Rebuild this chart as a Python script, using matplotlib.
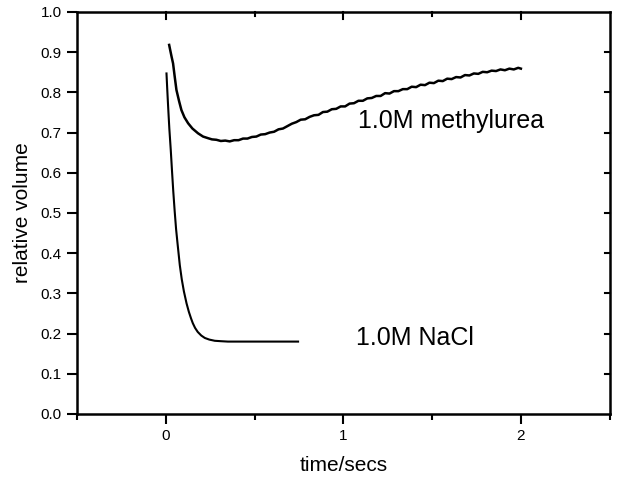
import numpy as np
import matplotlib.pyplot as plt
from matplotlib.ticker import MultipleLocator

plt.rcParams['font.family'] = ['Liberation Sans', 'DejaVu Sans']

# NaCl trace
t_nacl = [0.004, 0.008, 0.012, 0.016, 0.02, 0.028, 0.035, 0.042, 0.05, 0.058, 0.066, 0.079,
          0.09, 0.102, 0.117, 0.13, 0.142, 0.152, 0.165, 0.18, 0.2, 0.22, 0.245, 0.276,
          0.31, 0.35, 0.4, 0.5, 0.6, 0.7, 0.745]
v_nacl = [0.847, 0.81, 0.775, 0.742, 0.71, 0.657, 0.605, 0.555, 0.505, 0.46, 0.425, 0.37,
          0.335, 0.305, 0.275, 0.254, 0.238, 0.226, 0.214, 0.204, 0.195, 0.189, 0.185, 0.182,
          0.181, 0.18, 0.18, 0.18, 0.18, 0.18, 0.18]

# methylurea trace
t_mu = [0.019, 0.025, 0.033, 0.041, 0.05, 0.06, 0.075, 0.088, 0.105, 0.126, 0.15, 0.182, 0.21, 0.238,
        0.260, 0.285, 0.310, 0.335, 0.360, 0.385, 0.410, 0.435, 0.460, 0.485, 0.510, 0.535,
        0.560, 0.585, 0.610, 0.635, 0.660, 0.685, 0.710, 0.735, 0.760, 0.785, 0.810, 0.835,
        0.860, 0.885, 0.910, 0.935, 0.960, 0.985, 1.010, 1.035, 1.060, 1.085, 1.110, 1.135,
        1.160, 1.185, 1.210, 1.235, 1.260, 1.285, 1.310, 1.335, 1.360, 1.385, 1.410, 1.435,
        1.460, 1.485, 1.510, 1.535, 1.560, 1.585, 1.610, 1.635, 1.660, 1.685, 1.710, 1.735,
        1.760, 1.785, 1.810, 1.835, 1.860, 1.885, 1.910, 1.935, 1.960, 1.985, 2.000]
v_mu = [0.918, 0.905, 0.888, 0.872, 0.84, 0.806, 0.778, 0.756, 0.738, 0.723, 0.710, 0.698, 0.690, 0.686,
        0.683, 0.682, 0.679, 0.680, 0.678, 0.681, 0.681, 0.685, 0.685, 0.689, 0.690, 0.695,
        0.696, 0.700, 0.702, 0.708, 0.710, 0.716, 0.722, 0.726, 0.732, 0.733, 0.739, 0.743,
        0.744, 0.751, 0.752, 0.758, 0.759, 0.765, 0.765, 0.772, 0.773, 0.779, 0.779, 0.785,
        0.786, 0.791, 0.791, 0.798, 0.797, 0.803, 0.803, 0.808, 0.808, 0.814, 0.813, 0.819,
        0.818, 0.824, 0.823, 0.829, 0.828, 0.834, 0.833, 0.838, 0.837, 0.843, 0.842, 0.847,
        0.846, 0.851, 0.850, 0.854, 0.853, 0.857, 0.855, 0.859, 0.857, 0.861, 0.859]

fig = plt.figure(figsize=(6.23, 4.78), dpi=100)
ax = fig.add_axes([0.1236, 0.134, 0.855, 0.841])

ax.plot(t_nacl, v_nacl, color='black', lw=1.5)
ax.plot(t_mu, v_mu, color='black', lw=1.8)

ax.text(1.08, 0.728, '1.0M methylurea', fontsize=18, va='center', ha='left')
ax.text(1.07, 0.19, '1.0M NaCl', fontsize=18, va='center', ha='left')

ax.set_xlim(-0.5, 2.5)
ax.set_ylim(0, 1.0)
ax.xaxis.set_major_locator(MultipleLocator(1))
ax.xaxis.set_minor_locator(MultipleLocator(0.5))
ax.yaxis.set_major_locator(MultipleLocator(0.1))
ax.yaxis.set_major_formatter(plt.FormatStrFormatter('%.1f'))

ax.tick_params(axis='y', which='major', direction='out', length=7, width=1.5, labelsize=11,
               right=False, pad=4)
ax.tick_params(axis='x', which='major', direction='out', length=7, width=1.5, labelsize=11,
               top=False)
ax.tick_params(axis='x', which='minor', direction='out', length=4, width=1.5)

for s in ax.spines.values():
    s.set_linewidth(1.8)

ax.set_xlabel('time/secs', fontsize=15, labelpad=10)
ax.set_ylabel('relative volume', fontsize=15, labelpad=6)

# inward ticks on the right / top
for y in np.arange(0.1, 1.0, 0.1):
    ax.plot([2.5, 2.475], [y, y], color='black', lw=1.5, clip_on=False)
for x in [0, 1, 2]:
    ax.plot([x, x], [1.0, 0.983], color='black', lw=1.5, clip_on=False)
for x in [0.5, 1.5]:
    ax.plot([x, x], [1.0, 0.99], color='black', lw=1.5, clip_on=False)

fig.savefig('out.png', dpi=100)
